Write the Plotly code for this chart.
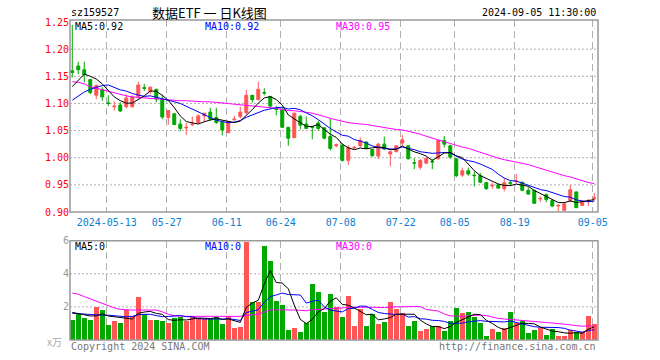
import plotly.graph_objects as go
import pandas as pd

# ---------------- data ----------------
# trading days shown (88 bars; the chart has only 9 bars between 07-22 and 08-05)
skip_days = ["2024-05-01", "2024-05-02", "2024-05-03", "2024-06-10", "2024-07-31"]
dates = [d.strftime("%Y-%m-%d") for d in pd.bdate_range("2024-04-30", "2024-09-05")
         if d.strftime("%Y-%m-%d") not in skip_days]

tick_dates = ["2024-05-13", "2024-05-27", "2024-06-11", "2024-06-24", "2024-07-08",
              "2024-07-22", "2024-08-05", "2024-08-19", "2024-09-05"]
tick_text = ["2024-05-13", "05-27", "06-11", "06-24", "07-08", "07-22", "08-05", "08-19", "09-05"]

open_ = [1.160, 1.169, 1.162, 1.144, 1.115, 1.125, 1.101, 1.094, 1.097, 1.094,
         1.094, 1.113, 1.129, 1.122, 1.126, 1.108, 1.074, 1.081, 1.062, 1.055,
         1.061, 1.064, 1.077, 1.084, 1.074, 1.065, 1.046, 1.070, 1.076, 1.083,
         1.115, 1.107, 1.120, 1.113, 1.090, 1.088, 1.056, 1.037, 1.076, 1.062,
         1.057, 1.064, 1.055, 1.039, 1.022, 1.023, 0.995, 1.018, 1.022, 1.029,
         1.015, 1.003, 1.025, 1.007, 1.011, 1.027, 1.022, 0.9905, 0.9825, 0.990,
         0.993, 0.998, 1.032, 1.022, 0.998, 0.968, 0.976, 0.968, 0.967, 0.954,
         0.948, 0.950, 0.943, 0.954, 0.956, 0.955, 0.940, 0.940, 0.924, 0.932,
         0.921, 0.911, 0.903, 0.921, 0.937, 0.912, 0.919, 0.925]
high = [1.245, 1.177, 1.177, 1.145, 1.135, 1.130, 1.115, 1.104, 1.102, 1.117,
        1.115, 1.140, 1.136, 1.131, 1.127, 1.116, 1.087, 1.081, 1.071, 1.064,
        1.076, 1.080, 1.082, 1.092, 1.092, 1.068, 1.068, 1.077, 1.094, 1.125,
        1.115, 1.140, 1.128, 1.113, 1.095, 1.093, 1.056, 1.083, 1.079, 1.076,
        1.059, 1.068, 1.056, 1.072, 1.026, 1.026, 1.023, 1.022, 1.037, 1.030,
        1.016, 1.027, 1.039, 1.011, 1.023, 1.042, 1.022, 0.999, 0.998, 1.001,
        0.998, 1.032, 1.040, 1.024, 0.999, 0.982, 0.982, 0.975, 0.972, 0.955,
        0.954, 0.952, 0.962, 0.958, 0.970, 0.955, 0.946, 0.940, 0.929, 0.934,
        0.921, 0.915, 0.919, 0.950, 0.938, 0.921, 0.924, 0.935]
low = [1.148, 1.154, 1.139, 1.117, 1.108, 1.105, 1.095, 1.087, 1.084, 1.091,
       1.092, 1.109, 1.123, 1.117, 1.102, 1.071, 1.061, 1.060, 1.049, 1.042,
       1.058, 1.063, 1.065, 1.068, 1.062, 1.041, 1.046, 1.068, 1.072, 1.080,
       1.102, 1.106, 1.115, 1.091, 1.078, 1.055, 1.022, 1.036, 1.052, 1.053,
       1.034, 1.050, 1.034, 1.013, 1.019, 0.993, 0.987, 1.016, 1.019, 1.016,
       1.001, 0.998, 1.015, 0.984, 1.011, 1.022, 0.997, 0.979, 0.978, 0.989,
       0.979, 0.997, 1.019, 0.998, 0.964, 0.965, 0.967, 0.947, 0.953, 0.941,
       0.943, 0.943, 0.938, 0.949, 0.952, 0.938, 0.932, 0.915, 0.918, 0.918,
       0.909, 0.901, 0.902, 0.918, 0.908, 0.911, 0.911, 0.921]
close = [1.157, 1.162, 1.153, 1.120, 1.133, 1.112, 1.100, 1.095, 1.086, 1.110,
         1.112, 1.134, 1.128, 1.130, 1.108, 1.075, 1.087, 1.061, 1.054, 1.056,
         1.062, 1.077, 1.082, 1.071, 1.065, 1.051, 1.066, 1.071, 1.084, 1.115,
         1.107, 1.126, 1.119, 1.095, 1.089, 1.056, 1.036, 1.082, 1.060, 1.054,
         1.056, 1.054, 1.036, 1.017, 1.024, 0.995, 1.019, 1.019, 1.032, 1.017,
         1.004, 1.025, 1.016, 1.011, 1.022, 1.033, 0.998, 0.990, 0.9948, 0.999,
         0.992, 1.032, 1.025, 1.001, 0.967, 0.976, 0.970, 0.967, 0.955, 0.943,
         0.949, 0.944, 0.954, 0.953, 0.957, 0.940, 0.933, 0.916, 0.925, 0.923,
         0.911, 0.912, 0.915, 0.941, 0.908, 0.919, 0.920, 0.926]
volume = [1.21, 1.57, 1.33, 1.21, 1.99, 1.81, 0.91, 1.15, 1.03, 1.81,
          1.45, 2.60, 1.57, 1.21, 1.21, 1.15, 1.03, 1.33, 1.39, 1.15,
          1.45, 1.33, 1.27, 1.27, 1.39, 0.97, 1.45, 0.72, 0.78, 5.92,
          2.29, 2.29, 5.67, 4.77, 2.35, 2.11, 0.60, 0.72, 0.48, 1.03,
          3.38, 2.90, 1.69, 2.78, 1.99, 1.39, 2.66, 0.85, 1.87, 0.85,
          1.57, 0.97, 1.09, 2.29, 1.87, 1.63, 0.85, 1.15, 0.54, 0.66,
          0.85, 0.85, 0.54, 1.15, 1.93, 1.63, 1.69, 1.39, 1.03, 0.24,
          0.66, 0.48, 0.72, 1.69, 1.03, 1.15, 0.42, 0.60, 0.72, 0.30,
          0.66, 0.24, 0.24, 0.60, 0.48, 0.48, 1.45, 0.97]

# moving-average values before enough visible history
ma5_head = [1.131, 1.142, 1.154, 1.150]
ma10_head = [1.106, 1.114, 1.121, 1.126, 1.130, 1.133, 1.134, 1.130, 1.125]
ma30_head = [1.140, 1.139, 1.136, 1.131, 1.128, 1.125, 1.122, 1.119, 1.117, 1.114,
             1.112, 1.111, 1.110, 1.109, 1.108, 1.107, 1.107, 1.106, 1.105, 1.105,
             1.104, 1.104, 1.103, 1.103, 1.102, 1.101, 1.100, 1.099, 1.098]
vol_ma5_head = [1.67, 1.60, 1.52, 1.45]
vol_ma10_head = [1.61, 1.58, 1.55, 1.52, 1.50, 1.50, 1.50, 1.47, 1.45]
vol_ma30_head = [2.84, 2.76, 2.62, 2.48, 2.34, 2.20, 2.06, 1.94, 1.85, 1.81,
                 1.81, 1.81, 1.81, 1.81, 1.81, 1.70, 1.55, 1.47, 1.43, 1.43,
                 1.43, 1.43, 1.43, 1.43, 1.43, 1.43, 1.43, 1.43, 1.43]

price_ticks = [0.90, 0.95, 1.00, 1.05, 1.10, 1.15, 1.20, 1.25]
price_grid = [0.95, 1.00, 1.05, 1.10, 1.15, 1.20]
vol_ticks = [2, 4, 6]
vol_grid = [2, 4]

# ---------------- helpers ----------------
def moving(series, n, head):
    out = list(head)
    for i in range(len(head), len(series)):
        w = series[i - n + 1:i + 1]
        out.append(sum(w) / len(w))
    return out

n = min(len(dates), len(close))
x = list(range(n))
ma5 = moving(close, 5, ma5_head)
ma10 = moving(close, 10, ma10_head)
ma30 = moving(close, 30, ma30_head)
vma5 = moving(volume, 5, vol_ma5_head)
vma10 = moving(volume, 10, vol_ma10_head)
vma30 = moving(volume, 30, vol_ma30_head)

RED = "#ff5555"
GREEN = "#00a800"
BLUE_TXT = "#0a7fd4"
MONO = "DejaVu Sans Mono"

vol_colors = [RED if c >= o else GREEN for o, c in zip(open_, close)]
tickvals = [dates.index(d) - 0.25 for d in tick_dates]

# ---------------- figure ----------------
fig = go.Figure()
fig.add_trace(go.Candlestick(
    x=x, open=open_, high=high, low=low, close=close,
    increasing=dict(line=dict(color=RED, width=1), fillcolor=RED),
    decreasing=dict(line=dict(color=GREEN, width=1), fillcolor=GREEN),
    whiskerwidth=0, showlegend=False, hoverinfo="skip", xaxis="x", yaxis="y"))
for s, col in [(ma30, "#ff00ff"), (ma10, "#0000ff"), (ma5, "#000000")]:
    fig.add_trace(go.Scatter(x=x, y=s, mode="lines", line=dict(color=col, width=1),
                             showlegend=False, hoverinfo="skip", xaxis="x", yaxis="y"))

fig.add_trace(go.Bar(x=x, y=volume, marker=dict(color=vol_colors, line=dict(width=0)),
                     width=0.8, showlegend=False, hoverinfo="skip", xaxis="x2", yaxis="y2"))
for s, col in [(vma30, "#ff00ff"), (vma10, "#0000ff"), (vma5, "#000000")]:
    fig.add_trace(go.Scatter(x=x, y=s, mode="lines", line=dict(color=col, width=1),
                             showlegend=False, hoverinfo="skip", xaxis="x2", yaxis="y2"))

xr = [-0.38, 87.62]
W, H = 660, 360
L, R, T, B = 70, 62, 20, 20
PW, PH = W - L - R, H - T - B


def px(xp):
    return (xp - L) / PW


def py(yp):
    return (H - B - yp) / PH


main_dom = [py(212), 1.0]
vol_dom = [0.0, py(240.7)]

grid_common = dict(showgrid=True, gridcolor="#b0b0b0", gridwidth=1, griddash="7px,4px",
                   zeroline=False, showline=False, ticks="", fixedrange=True, automargin=False)

fig.update_layout(
    width=W, height=H, margin=dict(l=L, r=R, t=T, b=B, autoexpand=False),
    paper_bgcolor="white", plot_bgcolor="white",
    bargap=0, showlegend=False,
    xaxis=dict(domain=[0, 1], range=xr, anchor="y", tickmode="array", tickvals=tickvals,
               ticktext=tick_text, tickfont=dict(family=MONO, size=10, color=BLUE_TXT),
               ticklabelstandoff=3, rangeslider=dict(visible=False), **grid_common),
    xaxis2=dict(domain=[0, 1], range=xr, anchor="y2", tickmode="array", tickvals=tickvals,
                showticklabels=False, **grid_common),
    yaxis=dict(domain=main_dom, range=[0.90, 1.2537], tickmode="array", tickvals=price_ticks,
               ticktext=[f"{v:.2f}" for v in price_ticks], showgrid=False, zeroline=False,
               ticks="", tickfont=dict(family=MONO, size=10, color="#ff0000"), fixedrange=True,
               automargin=False),
    yaxis2=dict(domain=vol_dom, range=[0, 6], tickmode="array", tickvals=vol_ticks,
                ticktext=[str(v) for v in vol_ticks], showgrid=False, zeroline=False,
                ticks="", tickfont=dict(family=MONO, size=10, color="#999999"), fixedrange=True,
                automargin=False),
)

shapes = []
for v in price_grid:
    shapes.append(dict(type="line", xref="x domain", yref="y", x0=0, x1=1, y0=v, y1=v,
                       line=dict(color="#b0b0b0", width=1, dash="2px,2px"), layer="below"))
for v in vol_grid:
    shapes.append(dict(type="line", xref="x2 domain", yref="y2", x0=0, x1=1, y0=v, y1=v,
                       line=dict(color="#b0b0b0", width=1, dash="2px,2px"), layer="below"))
shapes.append(dict(type="rect", xref="x domain", yref="y domain", x0=0, x1=1, y0=0, y1=1,
                   line=dict(color="#999999", width=1.5), layer="above"))
shapes.append(dict(type="rect", xref="x2 domain", yref="y2 domain", x0=0, x1=1, y0=0, y1=1,
                   line=dict(color="#999999", width=1.5), layer="above"))
fig.update_layout(shapes=shapes)


def note(text, xp, yp, color="#000000", size=10, anchor="left", family=MONO):
    fig.add_annotation(text=text, x=px(xp), y=py(yp), xref="paper", yref="paper",
                       xanchor=anchor, yanchor="middle", showarrow=False,
                       font=dict(family=family, size=size, color=color))


note("sz159527", 69, 12.5)
note("数据ETF 一 日K线图", 209, 12, size=13, anchor="center", family="Noto Sans CJK SC")
note("2024-09-05 11:30:00", 598, 12.5, anchor="right")
note(f"MA5:{ma5[-1]:.2f}", 73, 26)
note(f"MA10:{ma10[-1]:.2f}", 203, 26, color="#0000ff")
note(f"MA30:{ma30[-1]:.2f}", 334, 26, color="#ff00ff")
note("MA5:0", 73, 246)
note("MA10:0", 203, 246, color="#0000ff")
note("MA30:0", 334, 246, color="#ff00ff")
note("x万", 64, 341, color="#aaaaaa", anchor="right", family="Noto Sans CJK SC")
note("Copyright 2024 SINA.COM", 69, 346, color="#777777")
note("http://finance.sina.com.cn", 598, 346, color="#777777", anchor="right")

fig.write_html("out.html", config={"displayModeBar": False},
               post_script="document.body.style.margin='0';document.body.style.padding='0';")
